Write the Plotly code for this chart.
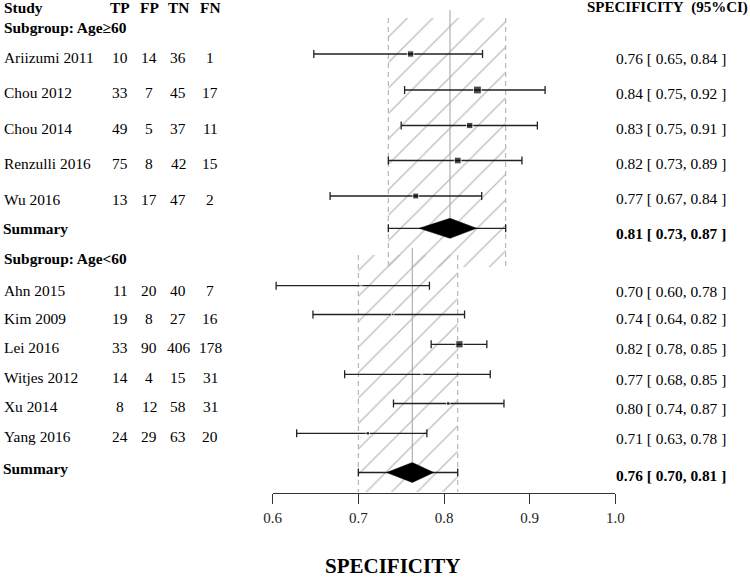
import plotly.graph_objects as go

# ---------------- data ----------------
studies_g1 = ["Ariizumi 2011", "Chou 2012", "Chou 2014", "Renzulli 2016", "Wu 2016"]
tp_g1 = [10, 33, 49, 75, 13]
fp_g1 = [14, 7, 5, 8, 17]
tn_g1 = [36, 45, 37, 42, 47]
fn_g1 = [1, 17, 11, 15, 2]
spec_g1 = [0.761, 0.839, 0.830, 0.816, 0.767]
lo_g1 = [0.648, 0.754, 0.750, 0.735, 0.667]
hi_g1 = [0.845, 0.918, 0.909, 0.891, 0.844]
weight_g1 = [32, 49, 32, 36, 28]
ci_text_g1 = ["0.76 [ 0.65, 0.84 ]", "0.84 [ 0.75, 0.92 ]", "0.83 [ 0.75, 0.91 ]",
              "0.82 [ 0.73, 0.89 ]", "0.77 [ 0.67, 0.84 ]"]
summary_g1 = 0.807
summary_lo_g1 = 0.735
summary_hi_g1 = 0.872
diamond_lo_g1 = 0.771
diamond_hi_g1 = 0.838
summary_text_g1 = "0.81 [ 0.73, 0.87 ]"

studies_g2 = ["Ahn 2015", "Kim 2009", "Lei 2016", "Witjes 2012", "Xu 2014", "Yang 2016"]
tp_g2 = [11, 19, 33, 14, 8, 24]
fp_g2 = [20, 8, 90, 4, 12, 29]
tn_g2 = [40, 27, 406, 15, 58, 63]
fn_g2 = [7, 16, 178, 31, 31, 20]
spec_g2 = [0.703, 0.740, 0.818, 0.774, 0.805, 0.711]
lo_g2 = [0.604, 0.647, 0.785, 0.684, 0.741, 0.628]
hi_g2 = [0.783, 0.824, 0.850, 0.854, 0.870, 0.780]
weight_g2 = [2.5, 4, 42, 2.5, 9, 9]
ci_text_g2 = ["0.70 [ 0.60, 0.78 ]", "0.74 [ 0.64, 0.82 ]", "0.82 [ 0.78, 0.85 ]",
              "0.77 [ 0.68, 0.85 ]", "0.80 [ 0.74, 0.87 ]", "0.71 [ 0.63, 0.78 ]"]
summary_g2 = 0.763
summary_lo_g2 = 0.700
summary_hi_g2 = 0.816
diamond_lo_g2 = 0.733
diamond_hi_g2 = 0.788
summary_text_g2 = "0.76 [ 0.70, 0.81 ]"

tick_vals = [0.6, 0.7, 0.8, 0.9, 1.0]
tick_labels = ["0.6", "0.7", "0.8", "0.9", "1.0"]
col_headers = ["TP", "FP", "TN", "FN"]

# ---------------- layout (pixel rows; y axis runs in pixels) ----------------
W, H = 750, 577
FONT = "Liberation Serif, Times New Roman, Times, DejaVu Serif, serif"
FS = 15.4
mark_y_g1 = [54, 90, 125.5, 160.5, 196]
mark_sum_y_g1 = 228.3
mark_y_g2 = [285.7, 314.5, 344.3, 374.3, 403.5, 433.3]
mark_sum_y_g2 = 472.5
text_y_g1 = [57, 92.7, 128, 163, 199]
text_sum_y_g1 = 228
text_y_g2 = [290, 318.7, 347.3, 377.3, 406.7, 436.7]
text_sum_y_g2 = 468.5
rtext_y_g1 = [58, 93, 128, 163, 198]
rtext_sum_y_g1 = 233
rtext_y_g2 = [291.7, 318.5, 348, 379, 408, 438]
rtext_sum_y_g2 = 475
header_y = 7
sub1_y = 27.5
sub2_y = 258.5
col_x = [120, 149, 178, 210]
axis_y = 493.3
region1 = (18, 267)
region2 = (255, 492)
center1 = (10, 218)
center2 = (248, 462)
diamond_half_h = 10
marker_scale = 1.12

fig = go.Figure()

def hatch(x0, x1, y0, y1):
    fig.add_trace(go.Scatter(
        x=[x0, x1, x1, x0, x0], y=[y0, y0, y1, y1, y0], mode="lines",
        line=dict(width=0), fill="toself", fillcolor="rgba(0,0,0,0)",
        fillpattern=dict(shape="/", size=18, solidity=0.07, fgcolor="#bcbcbc",
                         bgcolor="rgba(255,255,255,0)", fillmode="replace"),
        hoverinfo="skip"))
    for xv in (x0, x1):
        fig.add_trace(go.Scatter(x=[xv, xv], y=[y0, y1], mode="lines",
                                 line=dict(color="#b0b0b0", width=1.1, dash="5px,4px"),
                                 hoverinfo="skip"))

hatch(summary_lo_g1, summary_hi_g1, *region1)
hatch(summary_lo_g2, summary_hi_g2, *region2)

for xv, (y0, y1) in ((summary_g1, center1), (summary_g2, center2)):
    fig.add_trace(go.Scatter(x=[xv, xv], y=[y0, y1], mode="lines",
                             line=dict(color="#a8a8a8", width=1.1), hoverinfo="skip"))

def studies(spec, lo, hi, weight, ys):
    fig.add_trace(go.Scatter(
        x=spec, y=ys, mode="markers",
        marker=dict(symbol="square", color="black",
                    size=[marker_scale * w ** 0.5 for w in weight]),
        error_x=dict(type="data", symmetric=False,
                     array=[h - s for h, s in zip(hi, spec)],
                     arrayminus=[s - l for s, l in zip(spec, lo)],
                     color="#222222", thickness=1.3, width=4),
        hoverinfo="skip"))

studies(spec_g1, lo_g1, hi_g1, weight_g1, mark_y_g1)
studies(spec_g2, lo_g2, hi_g2, weight_g2, mark_y_g2)

def summary(est, lo, hi, dlo, dhi, y):
    fig.add_trace(go.Scatter(
        x=[est], y=[y], mode="markers", marker=dict(size=1, color="rgba(0,0,0,0)"),
        error_x=dict(type="data", symmetric=False, array=[hi - est], arrayminus=[est - lo],
                     color="#222222", thickness=1.3, width=4),
        hoverinfo="skip"))
    fig.add_trace(go.Scatter(
        x=[dlo, est, dhi, est, dlo], y=[y, y - diamond_half_h, y, y + diamond_half_h, y],
        mode="lines", line=dict(color="black", width=0.5), fill="toself",
        fillcolor="black", hoverinfo="skip"))

summary(summary_g1, summary_lo_g1, summary_hi_g1, diamond_lo_g1, diamond_hi_g1, mark_sum_y_g1)
summary(summary_g2, summary_lo_g2, summary_hi_g2, diamond_lo_g2, diamond_hi_g2, mark_sum_y_g2)

ann = []
def txt(s, xpx, y, anchor="left", bold=False, size=FS):
    ann.append(dict(text=f"<b>{s}</b>" if bold else s, x=xpx / W, xref="paper",
                    y=y, yref="y", xanchor=anchor, yanchor="middle", showarrow=False,
                    borderpad=0, borderwidth=0,
                    font=dict(family=FONT, size=size, color="black")))

txt("Study", 4, header_y, bold=True)
for h, cx in zip(col_headers, col_x):
    txt(h, cx, header_y, "center", bold=True)
txt("SPECIFICITY\u00a0 (95%CI)", 586.5, header_y, bold=True, size=15)
txt("Subgroup: Age\u226560", 4, sub1_y, bold=True)
txt("Subgroup: Age<60", 4, sub2_y, bold=True)

def table(names, tp, fp, tn, fn, ys, cis, rys):
    for i, nm in enumerate(names):
        txt(nm, 4, ys[i])
        for v, cx in zip((tp[i], fp[i], tn[i], fn[i]), col_x):
            txt(str(v), cx, ys[i], "center")
        txt(cis[i], 616, rys[i])

table(studies_g1, tp_g1, fp_g1, tn_g1, fn_g1, text_y_g1, ci_text_g1, rtext_y_g1)
table(studies_g2, tp_g2, fp_g2, tn_g2, fn_g2, text_y_g2, ci_text_g2, rtext_y_g2)
txt("Summary", 3, text_sum_y_g1, bold=True)
txt("Summary", 3, text_sum_y_g2, bold=True)
txt(summary_text_g1, 616, rtext_sum_y_g1, bold=True)
txt(summary_text_g2, 616, rtext_sum_y_g2, bold=True)
txt("SPECIFICITY", 392.5, 565.5, "center", bold=True, size=21)

fig.update_layout(
    template="none",
    width=W, height=H, margin=dict(l=0, r=0, t=0, b=0, pad=0, autoexpand=False),
    font=dict(family=FONT),
    paper_bgcolor="white", plot_bgcolor="rgba(0,0,0,0)", showlegend=False,
    annotations=ann,
    xaxis=dict(domain=[272.7 / W, 615.3 / W], range=[0.6, 1.0], anchor="free",
               position=(H - axis_y) / H, showline=True, linecolor="#333333", linewidth=1.3,
               ticks="outside", ticklen=10, tickwidth=1.3, tickcolor="#333333",
               tickvals=tick_vals, ticktext=tick_labels, ticklabelstandoff=1,
               tickfont=dict(family=FONT, size=15, color="#222222"),
               showgrid=False, zeroline=False, automargin=False),
    yaxis=dict(domain=[0, 1], range=[H, 0], visible=False, showgrid=False,
               zeroline=False, automargin=False),
)

fig.write_html("out.html", config={"displayModeBar": False},
               post_script="document.body.style.margin='0px';document.body.style.padding='0px';")
